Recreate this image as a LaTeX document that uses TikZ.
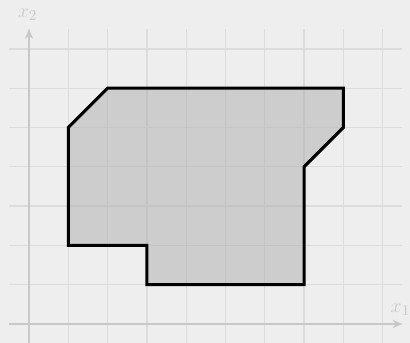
\documentclass[tikz,border=0pt]{standalone}
\usetikzlibrary{arrows.meta}
\definecolor{bgc}{HTML}{EEEEEE}
\definecolor{gridc}{HTML}{DCDCDC}
\definecolor{axisc}{HTML}{C8C8C8}
\definecolor{fillc}{HTML}{AEAEAE}
\tikzset{
  gridline/.style={draw=gridc, line width=0.9pt},
  axisline/.style={draw=axisc, line width=1.1pt, -{Stealth[length=7pt,width=6pt]}},
  axislabel/.style={text=axisc, font=\fontsize{15}{17}\selectfont, inner sep=0pt},
  region/.style={draw=black, fill=fillc, fill opacity=0.5, line width=2.2pt, line join=miter}
}
\begin{document}
\begin{tikzpicture}
\fill[bgc] (-0.738,-0.483) rectangle (9.695,8.244);
\useasboundingbox (-0.738,-0.483) rectangle (9.695,8.244);
\draw[gridline] (-0.5,-0.5) grid (9.5,7.5);
\coordinate (xs) at (-0.5,0);
\coordinate (xe) at (9.5,0);
\coordinate (ys) at (0,-0.5);
\coordinate (ye) at (0,7.5);
\draw[region] (1,5) -- (2,6) -- (8,6) -- (8,5) -- (7,4) -- (7,1) -- (3,1) -- (3,2) -- (1,2) -- cycle;
\draw[axisline] (xs) -- (xe);
\draw[axisline] (ys) -- (ye);
\node[axislabel] (l1) at (9.45,0.37) {$x_1$};
\node[axislabel] (l2) at (-0.04,7.86) {$x_2$};
\end{tikzpicture}
\end{document}
